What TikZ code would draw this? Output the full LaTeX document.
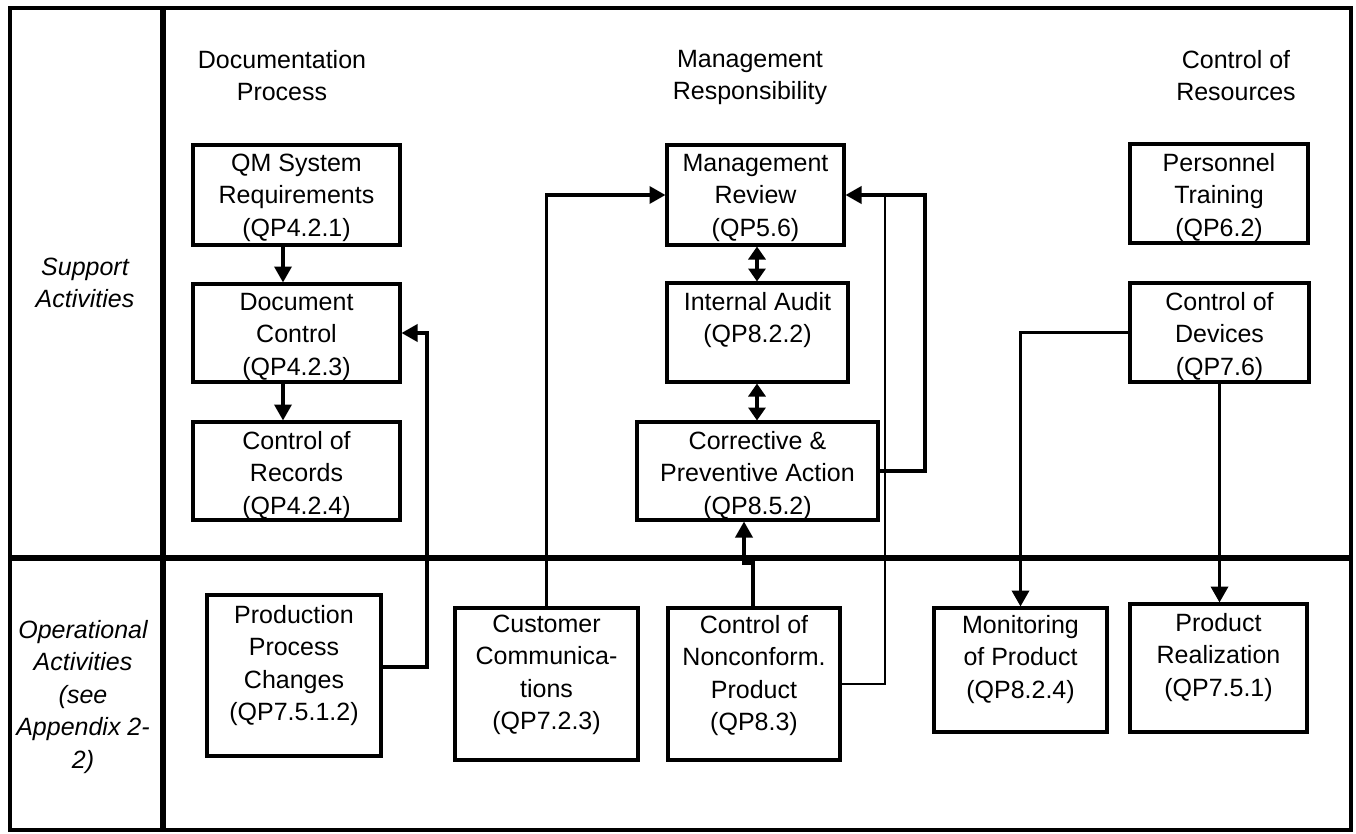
\documentclass[tikz,border=0pt]{standalone}
\usepackage{fontspec}
\setmainfont{Liberation Sans}
\usetikzlibrary{arrows.meta,calc}
\newcommand\qbox[5]{\node[box,minimum width={(#4-#2)*1pt},minimum height={(#5-#3)*1pt}] (#1) at ({(#2+#4)/2},{(#3+#5)/2}) {};}
\begin{document}
\begin{tikzpicture}[x=1pt,y=-1pt,
  box/.style={draw,line width=4.5pt,inner sep=0pt,outer sep=0pt},
  txt/.style={align=center,inner sep=0pt,outer sep=0pt,font=\fontsize{25}{32.5}\selectfont},
  ttxt/.style={txt,anchor=north},
  itxt/.style={align=center,inner sep=0pt,font=\fontsize{25}{32.5}\selectfont\itshape},
  frame/.style={line width=4pt},
  divider/.style={line width=5.5pt},
  conn/.style={line width=3.5pt},
  thinconn/.style={line width=2.5pt},
  arr/.style={conn,shorten >=1.5pt,-{Triangle[length=16pt,width=17pt]}},
  darr/.style={conn,shorten >=1.5pt,shorten <=1.5pt,{Triangle[length=13pt,width=17pt]}-{Triangle[length=13pt,width=17pt]}},
]
\useasboundingbox (0,0) rectangle (1356,834);
\fill[white] (0,0) rectangle (1356,834);

% table frame
\draw[frame] (10,8) rectangle (1351,830);
\draw[divider] (163,8) -- (163,830);
\draw[divider] (10,558) -- (1351,558);

% row labels
\node[itxt] (lsup) at (85,283) {Support\\Activities};
\node[itxt] (lop) at (83,697) {Operational\\Activities\\(see\\Appendix 2-\\2)};

% column headers
\node[ttxt] (hdoc) at (282,50) {Documentation\\Process};
\node[ttxt] (hman) at (750,50) {Management\\Responsibility};
\node[ttxt] (hres) at (1236,50) {Control of\\Resources};

% boxes
\qbox{qm}{193}{145}{400}{245}
\qbox{dc}{193}{284}{400}{382}
\qbox{rec}{193}{422}{400}{520}
\qbox{ppc}{207}{595}{381}{756}
\qbox{cc}{455}{608}{638}{760}
\qbox{ncp}{668}{608}{840}{760}
\qbox{mr}{667}{145}{844}{245}
\qbox{ia}{667}{283}{848}{382}
\qbox{cpa}{637}{422}{878}{520}
\qbox{pt}{1130}{144}{1308}{243}
\qbox{cod}{1130}{283}{1309}{382}
\qbox{mon}{934}{608}{1107}{732}
\qbox{pr}{1130}{604}{1307}{732}

% box texts
\node[ttxt] (qmt) at ($(qm.north)+(0,9)$) {QM System\\Requirements\\(QP4.2.1)};
\node[ttxt] (dct) at ($(dc.north)+(0,9)$) {Document\\Control\\(QP4.2.3)};
\node[ttxt] (rect) at ($(rec.north)+(0,9)$) {Control of\\Records\\(QP4.2.4)};
\node[ttxt] (ppct) at ($(ppc.north)+(0,10)$) {Production\\Process\\Changes\\(QP7.5.1.2)};
\node[ttxt] (cct) at ($(cc.north)+(0,7)$) {Customer\\Communica-\\tions\\(QP7.2.3)};
\node[ttxt] (ncpt) at ($(ncp.north)+(0,7)$) {Control of\\Nonconform.\\Product\\(QP8.3)};
\node[ttxt] (mrt) at ($(mr.north)+(0,9)$) {Management\\Review\\(QP5.6)};
\node[ttxt] (iat) at ($(ia.north)+(0,9)$) {Internal Audit\\(QP8.2.2)};
\node[ttxt] (cpat) at ($(cpa.north)+(0,9)$) {Corrective \&\\Preventive Action\\(QP8.5.2)};
\node[ttxt] (ptt) at ($(pt.north)+(0,9)$) {Personnel\\Training\\(QP6.2)};
\node[ttxt] (codt) at ($(cod.north)+(0,9)$) {Control of\\Devices\\(QP7.6)};
\node[ttxt] (mont) at ($(mon.north)+(0,7)$) {Monitoring\\of Product\\(QP8.2.4)};
\node[ttxt] (prt) at ($(pr.north)+(0,9)$) {Product\\Realization\\(QP7.5.1)};

% helper coordinates
\coordinate (ax) at (283,0);
\coordinate (mx) at (757,0);
\coordinate (ppcy) at (0,667);
\coordinate (px) at (427,333);
\coordinate (nj1) at (753,563);
\coordinate (nj2) at (744,563);
\coordinate (rx) at (925,195);
\coordinate (jx) at (885,195);

% connectors
\draw[arr] (qm.south -| ax) -- (dc.north -| ax);
\draw[arr] (dc.south -| ax) -- (rec.north -| ax);
\draw[arr] (ppc.east |- ppcy) -| (px) -- (dc.east);
\draw[arr] (cc.north) |- (mr.west);
\draw[darr] (mr.south -| mx) -- (ia.north -| mx);
\draw[darr] (ia.south -| mx) -- (cpa.north -| mx);
\draw[arr] (ncp.north -| nj1) -- (nj1) -- (nj2) -- (cpa.south -| nj2);
\draw[arr] (cpa.east) -| (rx) -- (mr.east);
\draw[thinconn] (ncp.east) -| (jx);
\draw[arr] (cod.west) -| (mon.north);
\draw[arr] (cod.south) -- (cod.south |- pr.north);
\end{tikzpicture}
\end{document}
